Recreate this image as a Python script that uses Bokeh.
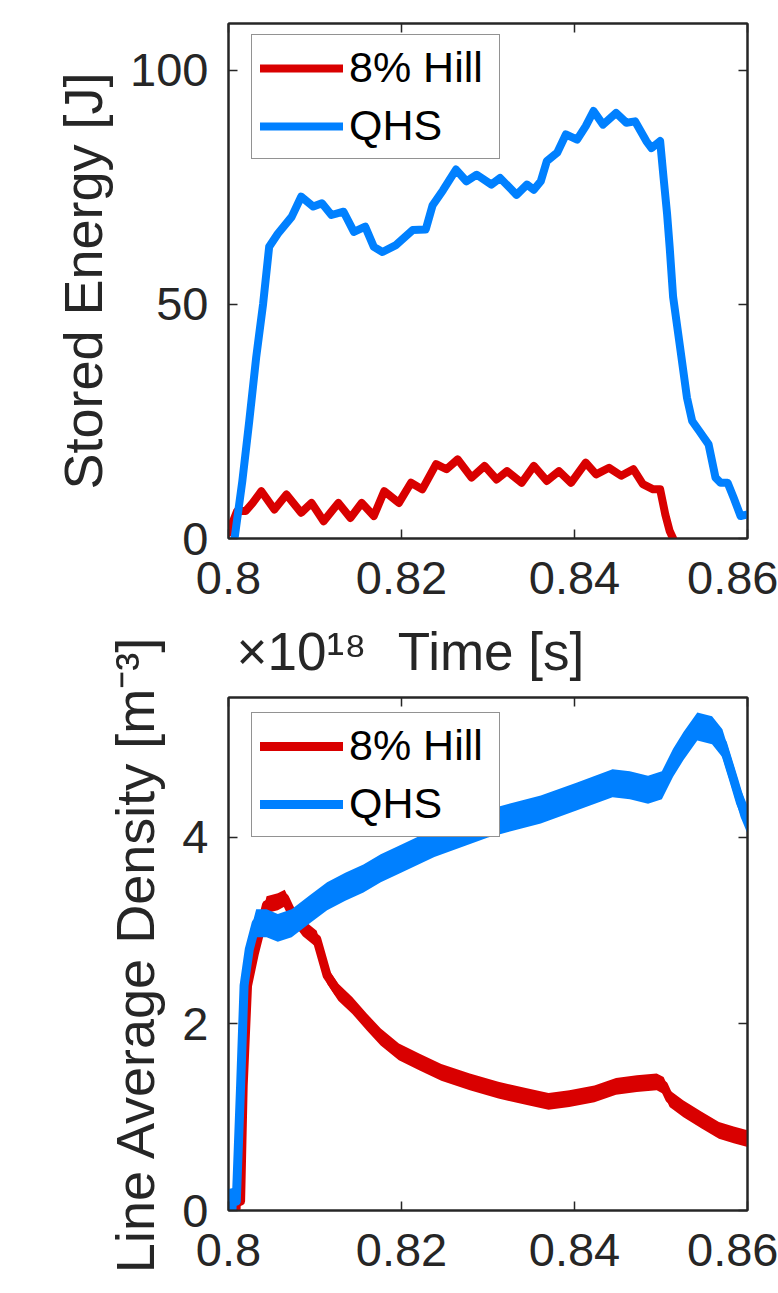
from bokeh.plotting import figure
from bokeh.models import (Range1d, FixedTicker, CustomJSTickFormatter, LinearAxis,
                          Legend, LegendItem)
from bokeh.layouts import column
from bokeh.embed import file_html
from bokeh.resources import INLINE

FONT = "Liberation Sans"
RED = "#D90000"
BLUE = "#0080FF"
INK = "#262626"

# ---------------- data ----------------
series_names = ["8% Hill", "QHS"]

energy_time_qhs = [0.8007, 0.8016, 0.8024, 0.8032, 0.8040, 0.8047, 0.8057, 0.8073, 0.8084, 0.8098,
                   0.8108, 0.8119, 0.8133, 0.8145, 0.8158, 0.8168, 0.8178, 0.8193, 0.8213, 0.8228,
                   0.8236, 0.8248, 0.8263, 0.8275, 0.8287, 0.8304, 0.8314, 0.8333, 0.8345, 0.8353,
                   0.8361, 0.8368, 0.8380, 0.8390, 0.8403, 0.8413, 0.8422, 0.8433, 0.8448, 0.8460,
                   0.8470, 0.8483, 0.8489, 0.8499, 0.8503, 0.8507, 0.8510, 0.8514, 0.8522, 0.8530,
                   0.8536, 0.8544, 0.8555, 0.8563, 0.8569, 0.8577, 0.8584, 0.8592, 0.8599]
energy_qhs = [0.0, 12.3, 25.1, 38.7, 50.1, 62.3, 65.1, 68.7, 73.0, 70.9,
              71.6, 69.1, 69.8, 65.5, 66.6, 62.3, 61.2, 62.6, 65.9, 66.0,
              71.2, 74.4, 78.8, 76.3, 77.7, 75.6, 77.0, 73.4, 75.6, 74.5,
              76.3, 80.6, 82.4, 86.3, 85.2, 88.1, 91.3, 88.4, 90.9, 88.8,
              89.1, 84.9, 83.4, 84.9, 77.0, 69.4, 62.3, 51.6, 40.9, 30.1,
              25.1, 23.0, 20.1, 13.0, 11.9, 11.9, 8.7, 4.8, 5.1]

energy_time_hill = [0.8000, 0.8010, 0.8020, 0.8028, 0.8038, 0.8053, 0.8067, 0.8084, 0.8096, 0.8110,
                    0.8127, 0.8141, 0.8154, 0.8168, 0.8180, 0.8197, 0.8211, 0.8224, 0.8240, 0.8252,
                    0.8265, 0.8281, 0.8296, 0.8310, 0.8322, 0.8339, 0.8353, 0.8368, 0.8382, 0.8396,
                    0.8413, 0.8425, 0.8440, 0.8454, 0.8468, 0.8479, 0.8491, 0.8499, 0.8505, 0.8510,
                    0.8514]
energy_hill = [1.2, 5.9, 5.9, 7.6, 10.1, 6.2, 9.4, 5.5, 7.6, 3.7,
               7.6, 4.4, 7.6, 4.8, 10.1, 7.6, 11.9, 10.5, 15.9, 14.8,
               16.9, 13.0, 15.5, 12.6, 14.4, 11.9, 15.5, 12.3, 14.4, 11.9,
               16.2, 13.7, 15.1, 13.4, 14.8, 11.6, 10.5, 10.5, 5.1, 1.6,
               0.0]

# line average density, in units of 1e18 m^-3
density_time_hill = [0.8004, 0.8014, 0.8017, 0.8022, 0.8030, 0.8036, 0.8044, 0.8057, 0.8065, 0.8073,
                     0.8086, 0.8102, 0.8114, 0.8127, 0.8143, 0.8160, 0.8176, 0.8197, 0.8221, 0.8246,
                     0.8279, 0.8312, 0.8345, 0.8370, 0.8394, 0.8423, 0.8448, 0.8472, 0.8495, 0.8503,
                     0.8510, 0.8526, 0.8547, 0.8567, 0.8584, 0.8600]
density_hill = [0.06, 0.10, 1.34, 2.41, 2.76, 2.98, 3.28, 3.31, 3.35, 3.19,
                3.03, 2.91, 2.52, 2.34, 2.20, 2.02, 1.86, 1.70, 1.59, 1.48,
                1.38, 1.29, 1.22, 1.17, 1.20, 1.25, 1.33, 1.36, 1.38, 1.34,
                1.20, 1.09, 0.97, 0.86, 0.81, 0.77]

density_time_qhs = [0.8000, 0.8009, 0.8014, 0.8018, 0.8024, 0.8032, 0.8044, 0.8057, 0.8073, 0.8094,
                    0.8114, 0.8135, 0.8156, 0.8176, 0.8197, 0.8238, 0.8300, 0.8361, 0.8403, 0.8444,
                    0.8464, 0.8485, 0.8501, 0.8514, 0.8526, 0.8542, 0.8559, 0.8571, 0.8584, 0.8592,
                    0.8600]
density_qhs = [0.08, 0.10, 1.34, 2.41, 2.80, 3.08, 3.08, 3.03, 3.08, 3.23,
               3.37, 3.47, 3.56, 3.67, 3.76, 3.94, 4.15, 4.30, 4.44, 4.58,
               4.56, 4.51, 4.56, 4.80, 4.98, 5.19, 5.15, 5.01, 4.62, 4.37,
               4.19]

x_ticks = [0.8, 0.82, 0.84, 0.86]
energy_ticks = [0, 50, 100]
density_ticks = [0, 2, 4]

x_label = "Time [s]"
energy_label = "Stored Energy [J]"
density_label = "Line Average Density [m⁻³]"
density_exponent = "×10¹⁸"

# ---------------- helpers ----------------
X_FMT = CustomJSTickFormatter(code="return tick.toFixed(2).replace(/0$/, '');")
Y_FMT = CustomJSTickFormatter(code="return tick.toFixed(0);")


def style_axis(ax, standoff):
    ax.major_tick_in = 9
    ax.major_tick_out = 0
    ax.minor_tick_in = 0
    ax.minor_tick_out = 0
    ax.axis_line_color = INK
    ax.axis_line_width = 2
    ax.major_tick_line_color = INK
    ax.major_tick_line_width = 1.5
    ax.major_label_text_font = FONT
    ax.major_label_text_font_size = "47px"
    ax.major_label_text_color = INK
    ax.major_label_standoff = standoff
    ax.axis_label_text_font = FONT
    ax.axis_label_text_font_size = "54px"
    ax.axis_label_text_color = INK
    ax.axis_label_text_font_style = "normal"


def mirror_axis(ticks):
    ax = LinearAxis(ticker=FixedTicker(ticks=ticks),
                    formatter=CustomJSTickFormatter(code="return '';"))
    ax.major_tick_in = 9
    ax.major_tick_out = 0
    ax.minor_tick_in = 0
    ax.minor_tick_out = 0
    ax.axis_line_color = INK
    ax.axis_line_width = 2
    ax.major_tick_line_color = INK
    ax.major_tick_line_width = 1.5
    ax.major_label_text_font_size = "1px"
    ax.major_label_standoff = 0
    return ax


def make_fig(height, b_top, b_bottom, y_max, yticks, ylabel):
    p = figure(width=778, height=height, output_backend="svg", toolbar_location=None,
               x_range=Range1d(0.8, 0.86), y_range=Range1d(0, y_max),
               min_border_left=228, min_border_right=31,
               min_border_top=b_top, min_border_bottom=b_bottom)
    p.outline_line_color = INK
    p.outline_line_width = 2
    p.grid.visible = False
    p.background_fill_color = "white"
    p.border_fill_color = "white"
    xa = p.xaxis[0]
    ya = p.yaxis[0]
    xa.ticker = FixedTicker(ticks=x_ticks)
    xa.formatter = X_FMT
    ya.ticker = FixedTicker(ticks=yticks)
    ya.formatter = Y_FMT
    style_axis(xa, 23)
    style_axis(ya, 20)
    ya.axis_label = ylabel
    ya.axis_label_standoff = 14
    p.add_layout(mirror_axis(x_ticks), "above")
    p.add_layout(mirror_axis(yticks), "right")
    return p


def make_legend(renderers, y):
    leg = Legend(items=[LegendItem(label=series_names[i], renderers=[renderers[i]]) for i in range(2)],
                 location=(23, y))
    leg.label_text_font = FONT
    leg.label_text_font_size = "43px"
    leg.label_text_color = "black"
    leg.glyph_width = 83
    leg.glyph_height = 48
    leg.label_height = 48
    leg.label_width = 142
    leg.label_standoff = 6
    leg.spacing = 9
    leg.padding = 8
    leg.margin = 0
    leg.border_line_color = INK
    leg.border_line_width = 1.5
    leg.background_fill_color = "white"
    leg.background_fill_alpha = 1.0
    return leg


# ---------------- top: stored energy ----------------
p1 = make_fig(618, 23, 80, 110, energy_ticks, energy_label)
r_hill = p1.line(energy_time_hill, energy_hill, color=RED, line_width=8,
                 line_join="round", line_cap="round")
r_qhs = p1.line(energy_time_qhs, energy_qhs, color=BLUE, line_width=8,
                line_join="round", line_cap="round")
p1.add_layout(make_legend([r_hill, r_qhs], 379))

# ---------------- bottom: line average density ----------------
p2 = make_fig(675, 79, 83, 5.5, density_ticks, density_label)

# row above the lower frame: the upper plot's x label and the exponent of this y axis
text_axis = LinearAxis(ticker=FixedTicker(ticks=[0.80844, 0.83035]),
                       formatter=CustomJSTickFormatter(args=dict(labels=[density_exponent, x_label]),
                                                       code="return labels[index];"))
text_axis.axis_line_color = None
text_axis.major_tick_line_color = None
text_axis.minor_tick_line_color = None
text_axis.major_tick_in = 0
text_axis.major_tick_out = 0
text_axis.minor_tick_in = 0
text_axis.minor_tick_out = 0
text_axis.major_label_standoff = 17
text_axis.major_label_text_font = FONT
text_axis.major_label_text_font_size = "53px"
text_axis.major_label_text_color = INK
p2.add_layout(text_axis, "above")

HILL_HALF = 0.09
QHS_HALF = 0.15
p2.varea(x=density_time_hill, y1=[v - HILL_HALF for v in density_hill],
         y2=[v + HILL_HALF for v in density_hill], fill_color=RED)
d_hill = p2.line(density_time_hill, density_hill, color=RED, line_width=9,
                 line_join="round", line_cap="round")
p2.varea(x=density_time_qhs, y1=[v - QHS_HALF for v in density_qhs],
         y2=[v + QHS_HALF for v in density_qhs], fill_color=BLUE)
d_qhs = p2.line(density_time_qhs, density_qhs, color=BLUE, line_width=9,
                line_join="round", line_cap="round")
p2.add_layout(make_legend([d_hill, d_qhs], 373))

layout = column(p1, p2, spacing=0)
open("out.html", "w").write(file_html(layout, INLINE))
